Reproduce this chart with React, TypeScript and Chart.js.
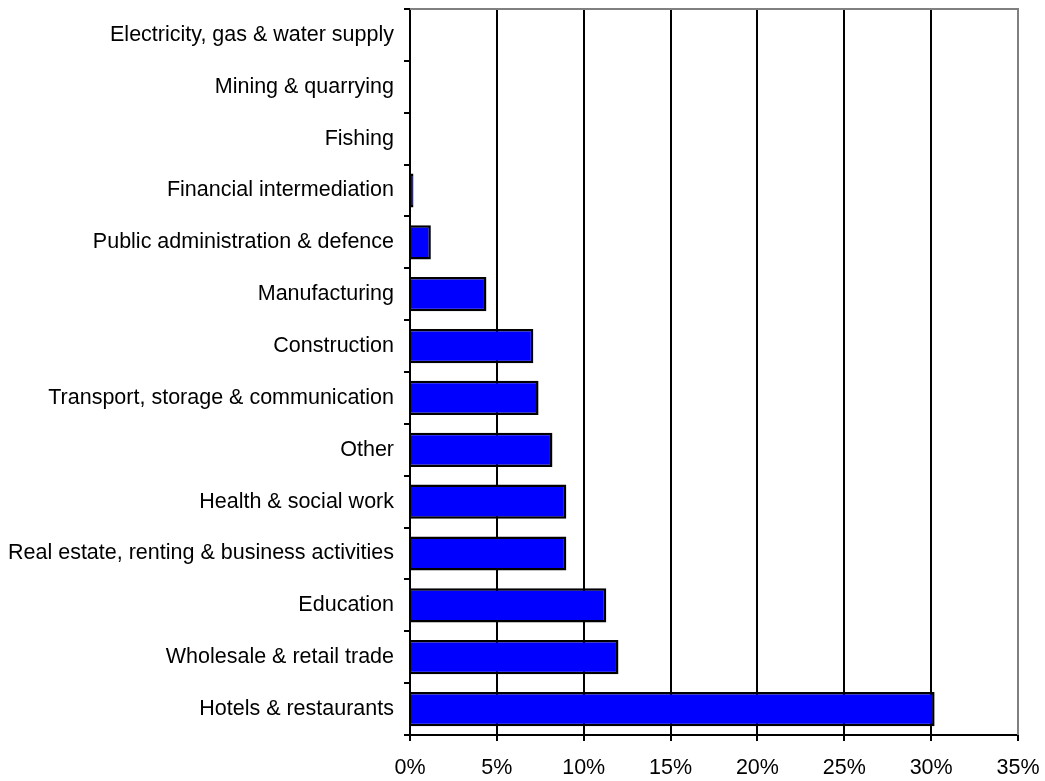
import React, { useEffect, useRef } from "react";
import { Chart, registerables } from "chart.js";

Chart.register(...registerables);

const categories = [
  "Electricity, gas & water supply",
  "Mining & quarrying",
  "Fishing",
  "Financial intermediation",
  "Public administration & defence",
  "Manufacturing",
  "Construction",
  "Transport, storage & communication",
  "Other",
  "Health & social work",
  "Real estate, renting & business activities",
  "Education",
  "Wholesale & retail trade",
  "Hotels & restaurants",
];

const shares = [0, 0, 0, 0.2, 1.2, 4.4, 7.1, 7.4, 8.2, 9.0, 9.0, 11.3, 12.0, 30.2];

const xTicks = [0, 5, 10, 15, 20, 25, 30, 35];

const frame = {
  id: "frame",
  afterDraw(chart: any) {
    const { ctx, chartArea } = chart;
    ctx.save();
    ctx.strokeStyle = "#808080";
    ctx.lineWidth = 2;
    ctx.beginPath();
    ctx.moveTo(chartArea.left, chartArea.top);
    ctx.lineTo(chartArea.right, chartArea.top);
    ctx.lineTo(chartArea.right, chartArea.bottom);
    ctx.stroke();
    ctx.restore();
  },
};

const FONT = "'Liberation Sans', Arial, sans-serif";

export default function App() {
  const ref = useRef<HTMLCanvasElement>(null);
  useEffect(() => {
    document.body.style.margin = "0";
    const chart = new Chart(ref.current!, {
      type: "bar",
      data: {
        labels: categories,
        datasets: [
          {
            data: shares,
            backgroundColor: "#0000FF",
            borderColor: "#000000",
            borderWidth: 2.5,
            barPercentage: 0.66,
            categoryPercentage: 1,
          },
        ],
      },
      options: {
        indexAxis: "y",
        animation: false,
        responsive: false,
        maintainAspectRatio: false,
        layout: { padding: { top: 9, right: 27, bottom: 0, left: 0 } },
        plugins: { legend: { display: false }, tooltip: { enabled: false } },
        scales: {
          x: {
            min: 0,
            max: 35,
            afterBuildTicks: (scale: any) => {
              scale.ticks = xTicks.map((v) => ({ value: v }));
            },
            afterFit: (scale: any) => {
              scale.paddingLeft = 0;
              scale.paddingRight = 0;
              scale.height = 46;
            },
            ticks: {
              color: "#000",
              font: { family: FONT, size: 21.5 },
              padding: 14,
              callback: (v: any) => v + "%",
            },
            grid: {
              color: (c: any) => (c.tick && c.tick.value === 35 ? "#808080" : "#000"),
              lineWidth: 2,
              tickLength: 6,
              tickColor: "#000",
            },
            border: { color: "#000", width: 2 },
          },
          y: {
            afterFit: (scale: any) => {
              scale.width = 410;
              scale.paddingTop = 0;
              scale.paddingBottom = 0;
            },
            ticks: {
              color: "#000",
              font: { family: FONT, size: 21.5 },
              padding: 10,
            },
            grid: {
              drawOnChartArea: false,
              drawTicks: true,
              tickLength: 6,
              tickColor: "#000",
              lineWidth: 2,
              offset: true,
            },
            border: { color: "#000", width: 2 },
          },
        },
      },
      plugins: [frame],
    });
    return () => chart.destroy();
  }, []);
  return (
    <div style={{ width: 1045, height: 781 }}>
      <canvas ref={ref} width={1045} height={781} />
    </div>
  );
}
